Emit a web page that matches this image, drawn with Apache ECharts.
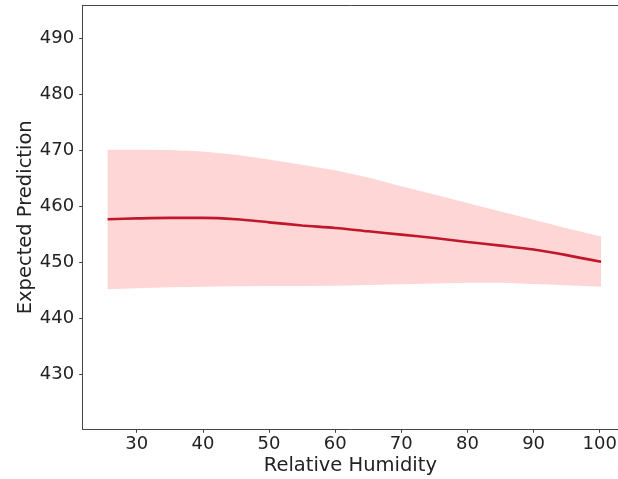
<!DOCTYPE html>
<html>
<head>
<meta charset="utf-8">
<script src="https://cdn.jsdelivr.net/npm/echarts@6/dist/echarts.min.js"></script>
<style>
  html, body { margin: 0; padding: 0; background: #fff; }
  #chart { width: 618px; height: 479px; }
</style>
</head>
<body>
<div id="chart"></div>
<script>
// Partial dependence of the prediction on relative humidity
const humidity = [25.6, 30, 35, 40, 45, 50, 55, 60, 65, 70, 75, 80, 85, 90, 95, 100.2];
const meanPrediction = [457.7, 457.85, 457.95, 457.95, 457.7, 457.15, 456.6, 456.15, 455.55, 454.95, 454.35, 453.65, 453.0, 452.3, 451.3, 450.1];
const upperBound = [470.1, 470.1, 470.05, 469.8, 469.2, 468.35, 467.45, 466.45, 465.15, 463.6, 462.1, 460.6, 459.1, 457.6, 456.1, 454.6];
const lowerBound = [445.2, 445.4, 445.55, 445.65, 445.75, 445.8, 445.8, 445.85, 445.95, 446.1, 446.25, 446.35, 446.35, 446.15, 445.9, 445.65];

const xTicks = [30, 40, 50, 60, 70, 80, 90, 100];
const yTicks = [430, 440, 450, 460, 470, 480, 490];

const axisColor = '#444';
const textColor = '#222';
const fontFamily = 'DejaVu Sans';

const meanPairs = humidity.map((h, i) => [h, meanPrediction[i]]);

const chart = echarts.init(document.getElementById('chart'), null, { renderer: 'canvas' });

// Confidence band: polygon running along the upper bound, then back along the lower bound
function renderBand(params, api) {
  const pts = [];
  for (let i = 0; i < humidity.length; i++) {
    pts.push(api.coord([humidity[i], upperBound[i]]));
  }
  for (let i = humidity.length - 1; i >= 0; i--) {
    pts.push(api.coord([humidity[i], lowerBound[i]]));
  }
  return {
    type: 'polygon',
    shape: { points: pts },
    style: { fill: '#ffd6d6', stroke: null }
  };
}

chart.setOption({
  animation: false,
  backgroundColor: '#fff',
  grid: {
    left: 82.7, top: 5.3, right: 0, bottom: 49.7,
    outerBoundsMode: 'none',
    containLabel: false,
    show: false
  },
  xAxis: [
    {
      type: 'value',
      min: 21.83, max: 102.76,
      name: 'Relative Humidity',
      nameLocation: 'middle',
      nameGap: 27,
      nameMoveOverlap: false,
      nameTextStyle: { fontFamily, fontSize: 19.5, color: textColor },
      axisLine: { show: true, onZero: false, lineStyle: { color: axisColor, width: 1 } },
      axisTick: { show: true, length: 3.5, customValues: xTicks, lineStyle: { color: axisColor } },
      axisLabel: { customValues: xTicks, margin: 6, fontFamily, fontSize: 18, color: textColor },
      splitLine: { show: false }
    },
    {
      // top spine
      type: 'value',
      position: 'top',
      min: 21.83, max: 102.76,
      axisLine: { show: true, onZero: false, lineStyle: { color: axisColor, width: 1 } },
      axisTick: { show: false },
      axisLabel: { show: false },
      splitLine: { show: false }
    }
  ],
  yAxis: {
    type: 'value',
    min: 420.2, max: 495.9,
    name: 'Expected Prediction',
    nameLocation: 'middle',
    nameGap: 47,
    nameMoveOverlap: false,
    nameTextStyle: { fontFamily, fontSize: 19.5, color: textColor },
    axisLine: { show: true, onZero: false, lineStyle: { color: axisColor, width: 1 } },
    axisTick: { show: true, length: 3.5, customValues: yTicks, lineStyle: { color: axisColor } },
    axisLabel: { customValues: yTicks, margin: 8.5, fontFamily, fontSize: 18, color: textColor },
    splitLine: { show: false }
  },
  series: [
    {
      name: 'band',
      type: 'custom',
      renderItem: renderBand,
      data: [0],
      silent: true,
      z: 1
    },
    {
      name: 'mean',
      type: 'line',
      data: meanPairs,
      symbol: 'none',
      smooth: 0.3,
      lineStyle: { color: '#c0172a', width: 2.6 },
      z: 5
    }
  ]
});
</script>
</body>
</html>
